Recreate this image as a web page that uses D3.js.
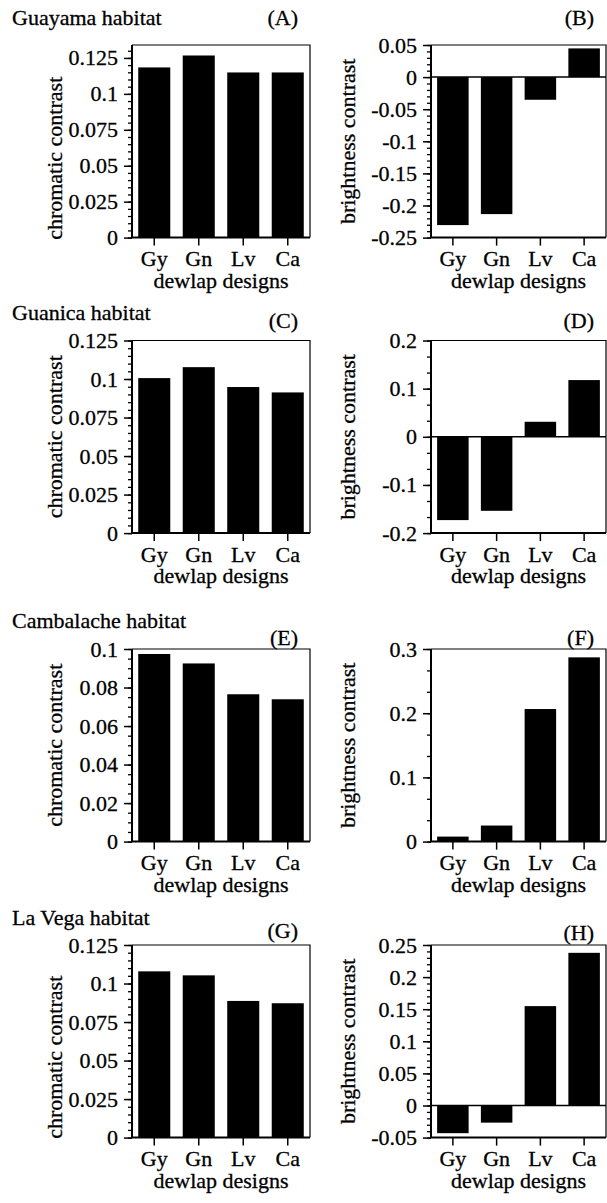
<!DOCTYPE html>
<head>
  <meta charset="utf-8">
  <script src="https://d3js.org/d3.v7.min.js"></script>
  <style>
    body { margin:0; background:#fff; }
    svg text { font-family: "Liberation Serif", "Times New Roman", serif; fill:#000; stroke:#000; stroke-width:0.3px; }
  </style>
</head>
<body>
<script>
  // dewlap designs on every x axis
  var designs = ["Gy", "Gn", "Lv", "Ca"];
  var habitats = ["Guayama habitat", "Guanica habitat", "Cambalache habitat", "La Vega habitat"];
  var letters = ["(A)", "(B)", "(C)", "(D)", "(E)", "(F)", "(G)", "(H)"];

  // chromatic contrast (left column)
  var chromaGuayama    = [0.1184, 0.1267, 0.1149, 0.1149];
  var chromaGuanica    = [0.1006, 0.1077, 0.0948, 0.0913];
  var chromaCambalache = [0.0974, 0.0925, 0.0765, 0.0739];
  var chromaLaVega     = [0.1079, 0.1053, 0.0887, 0.0872];

  // brightness contrast (right column)
  var brightGuayama    = [-0.2305, -0.2134, -0.0353, 0.0447];
  var brightGuanica    = [-0.173, -0.1537, 0.0312, 0.1178];
  var brightCambalache = [0.0078, 0.025, 0.2065, 0.287];
  var brightLaVega     = [-0.0431, -0.0267, 0.1548, 0.2378];

  // y tick labels
  var ticksChroma125 = [0, 0.025, 0.05, 0.075, 0.1, 0.125];
  var ticksChroma10  = [0, 0.02, 0.04, 0.06, 0.08, 0.1];
  var ticksBrightB   = [-0.25, -0.2, -0.15, -0.1, -0.05, 0, 0.05];
  var ticksBrightD   = [-0.2, -0.1, 0, 0.1, 0.2];
  var ticksBrightF   = [0, 0.1, 0.2, 0.3];
  var ticksBrightH   = [-0.05, 0, 0.05, 0.1, 0.15, 0.2, 0.25];

  var W = 607, H = 1203;
  var svg = d3.select("body").append("svg")
    .attr("width", W)
    .attr("height", H);

  var rowTop = [45, 340.5, 649, 945];
  var plotH = 192.6;
  var cols = [{ x: 132, w: 178, titleOff: 70 }, { x: 431, w: 175, titleOff: 76 }];
  var letterY = [[25, 25], [328, 328], [645, 645], [938, 940]];
  var titleY = [25, 320, 628, 925];
  var labelShift = [17, 0, 0, 16];

  var panels = [
    { row: 0, col: 0, values: chromaGuayama, domain: [0, 0.134], ticks: ticksChroma125, minor: 0.005, label: "chromatic contrast" },
    { row: 0, col: 1, values: brightGuayama, domain: [-0.25, 0.05], ticks: ticksBrightB, minor: 0.01, label: "brightness contrast" },
    { row: 1, col: 0, values: chromaGuanica, domain: [0, 0.125], ticks: ticksChroma125, minor: 0.005, label: "chromatic contrast" },
    { row: 1, col: 1, values: brightGuanica, domain: [-0.2, 0.2], ticks: ticksBrightD, minor: 0.1 / 3, label: "brightness contrast" },
    { row: 2, col: 0, values: chromaCambalache, domain: [0, 0.1], ticks: ticksChroma10, minor: 0.005, label: "chromatic contrast" },
    { row: 2, col: 1, values: brightCambalache, domain: [0, 0.3], ticks: ticksBrightF, minor: 0.1 / 3, label: "brightness contrast" },
    { row: 3, col: 0, values: chromaLaVega, domain: [0, 0.125], ticks: ticksChroma125, minor: 0.005, label: "chromatic contrast" },
    { row: 3, col: 1, values: brightLaVega, domain: [-0.05, 0.25], ticks: ticksBrightH, minor: 0.01, label: "brightness contrast" }
  ];

  var fs = 22;

  panels.forEach(function(p, i) {
    var c = cols[p.col];
    var top = rowTop[p.row];
    var g = svg.append("g").attr("transform", "translate(" + c.x + "," + top + ")");

    var x = d3.scaleBand()
      .domain(designs)
      .range([0, c.w])
      .paddingInner(0.28)
      .paddingOuter(0.14);

    var y = d3.scaleLinear()
      .domain(p.domain)
      .range([plotH, 0]);

    // bars
    g.selectAll(".bar")
      .data(p.values)
      .enter()
      .append("rect")
      .attr("class", "bar")
      .attr("x", function(d, j) { return x(designs[j]); })
      .attr("width", x.bandwidth())
      .attr("y", function(d) { return y(Math.max(0, d)); })
      .attr("height", function(d) { return Math.abs(y(d) - y(0)); })
      .style("fill", "#000");

    // zero line
    if (p.domain[0] < 0) {
      g.append("line")
        .attr("x1", 0).attr("x2", c.w)
        .attr("y1", y(0)).attr("y2", y(0))
        .style("stroke", "#000").style("stroke-width", 1.5);
    }

    // minor ticks
    var minorVals = d3.range(Math.ceil(p.domain[0] / p.minor - 1e-6), Math.floor(p.domain[1] / p.minor + 1e-6) + 1)
      .map(function(k) { return k * p.minor; });
    g.append("g")
      .call(d3.axisLeft(y).tickValues(minorVals).tickSize(4).tickFormat(""))
      .call(function(a) { a.select(".domain").remove(); a.selectAll("line").style("stroke-width", 1.3); });

    // major ticks
    g.append("g")
      .call(d3.axisLeft(y).tickValues(p.ticks).tickSize(8).tickPadding(6).tickFormat(function(d) { return String(d); }))
      .call(function(a) {
        a.select(".domain").remove();
        a.selectAll("line").style("stroke-width", 1.5);
        a.selectAll("text").style("font-size", fs + "px").style("font-family", "Liberation Serif");
      });

    // x axis
    g.append("g")
      .attr("transform", "translate(0," + plotH + ")")
      .call(d3.axisBottom(x).tickSize(8).tickPadding(5))
      .call(function(a) {
        a.select(".domain").remove();
        a.selectAll("line").style("stroke-width", 1.5);
        a.selectAll("text").style("font-size", fs + "px").style("font-family", "Liberation Serif");
      });

    // frame
    g.append("path")
      .attr("d", "M0,0H" + c.w + "V" + plotH)
      .style("fill", "none").style("stroke", "#000").style("stroke-width", 1.2);
    g.append("path")
      .attr("d", "M0,0V" + plotH + "H" + c.w)
      .style("fill", "none").style("stroke", "#000").style("stroke-width", 2);

    // axis titles
    g.append("text")
      .text("dewlap designs")
      .attr("x", c.w / 2)
      .attr("y", plotH + 50)
      .attr("text-anchor", "middle")
      .style("font-size", fs + "px");

    var shift = p.col === 0 ? labelShift[p.row] : 0;
    g.append("text")
      .text(p.label)
      .attr("text-anchor", "middle")
      .attr("transform", "translate(" + (-c.titleOff) + "," + (plotH / 2 + shift) + ") rotate(-90)")
      .style("font-size", fs + "px");

    // panel letter
    svg.append("text")
      .text(letters[i])
      .attr("x", c.x + c.w - 12)
      .attr("y", letterY[p.row][p.col])
      .attr("text-anchor", "end")
      .style("font-size", fs + "px");

    if (p.col === 0) {
      svg.append("text")
        .text(habitats[p.row])
        .attr("x", 12)
        .attr("y", titleY[p.row])
        .style("font-size", fs + "px");
    }
  });
</script>
</body>
